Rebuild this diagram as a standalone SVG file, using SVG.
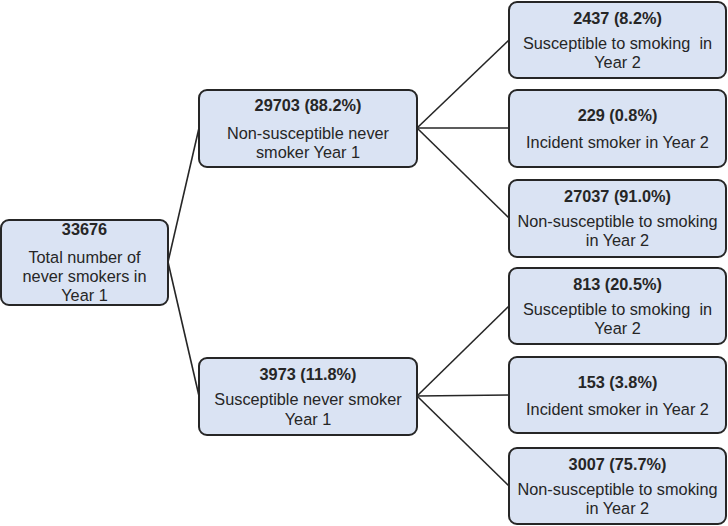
<svg xmlns="http://www.w3.org/2000/svg" width="728" height="526" viewBox="0 0 728 526">
<style>
.box{fill:#dae3f3;stroke:#262626;stroke-width:2}
text{font-family:"Liberation Sans",Arial,sans-serif;font-size:16.3px;fill:#262626;text-anchor:middle;white-space:pre}
.num{font-weight:bold}
.conn line{stroke:#262626;stroke-width:1.6}
</style>
<rect width="728" height="526" fill="#ffffff"/>
<g class="conn" id="connectors">
<line x1="168" y1="262" x2="199" y2="128"/>
<line x1="168" y1="262" x2="199" y2="396"/>
<line x1="417" y1="128" x2="509" y2="40"/>
<line x1="417" y1="128" x2="509" y2="128"/>
<line x1="417" y1="128" x2="509" y2="218"/>
<line x1="417" y1="396" x2="509" y2="306"/>
<line x1="417" y1="396" x2="509" y2="395"/>
<line x1="417" y1="396" x2="509" y2="486"/>
</g>
<g id="root">
<rect class="box" x="1" y="220" width="167" height="85" rx="8"/>
<text class="num" x="84.5" y="234.5">33676</text>
<text x="84.5" y="263">Total number of</text>
<text x="84.5" y="282">never smokers in</text>
<text x="84.5" y="301">Year 1</text>
</g>
<g id="nonsusc">
<rect class="box" x="199" y="90" width="218" height="77" rx="8"/>
<text class="num" x="308" y="111">29703 (88.2%)</text>
<text x="308" y="139">Non-susceptible never</text>
<text x="308" y="158">smoker Year 1</text>
</g>
<g id="susc">
<rect class="box" x="199" y="358" width="218" height="77" rx="8"/>
<text class="num" x="308" y="380">3973 (11.8%)</text>
<text x="308" y="405">Susceptible never smoker</text>
<text x="308" y="425">Year 1</text>
</g>
<g id="n2437">
<rect class="box" x="509" y="2" width="217" height="76" rx="8"/>
<text class="num" x="617.5" y="24">2437 (8.2%)</text>
<text x="617.5" y="49">Susceptible to smoking  in</text>
<text x="617.5" y="68">Year 2</text>
</g>
<g id="n229">
<rect class="box" x="509" y="90" width="217" height="77" rx="8"/>
<text class="num" x="617.5" y="121">229 (0.8%)</text>
<text x="617.5" y="148">Incident smoker in Year 2</text>
</g>
<g id="n27037">
<rect class="box" x="509" y="180" width="217" height="77" rx="8"/>
<text class="num" x="617.5" y="202">27037 (91.0%)</text>
<text x="617.5" y="227">Non-susceptible to smoking</text>
<text x="617.5" y="246">in Year 2</text>
</g>
<g id="n813">
<rect class="box" x="509" y="268" width="217" height="76" rx="8"/>
<text class="num" x="617.5" y="290">813 (20.5%)</text>
<text x="617.5" y="315">Susceptible to smoking  in</text>
<text x="617.5" y="334">Year 2</text>
</g>
<g id="n153">
<rect class="box" x="509" y="357" width="217" height="76" rx="8"/>
<text class="num" x="617.5" y="388">153 (3.8%)</text>
<text x="617.5" y="415">Incident smoker in Year 2</text>
</g>
<g id="n3007">
<rect class="box" x="509" y="448" width="217" height="76" rx="8"/>
<text class="num" x="617.5" y="470">3007 (75.7%)</text>
<text x="617.5" y="495">Non-susceptible to smoking</text>
<text x="617.5" y="514">in Year 2</text>
</g>
</svg>
